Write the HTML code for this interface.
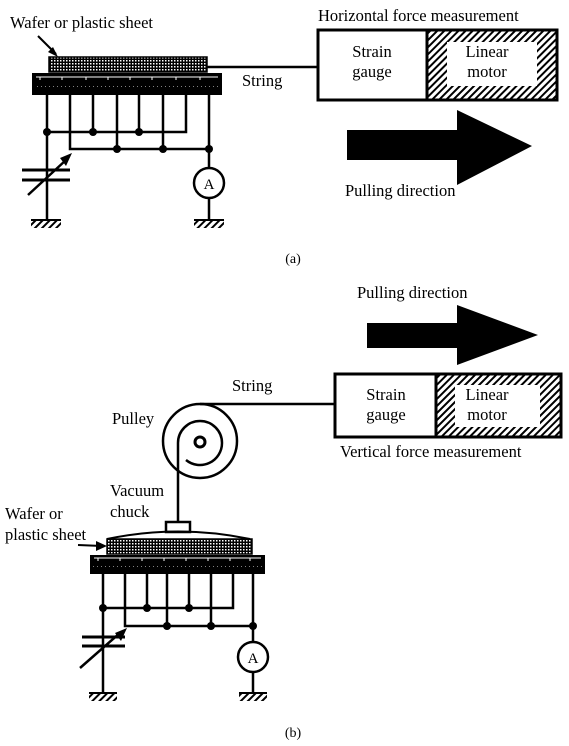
<!DOCTYPE html>
<html><head><style>
html,body{margin:0;padding:0;background:#fff;}
svg{display:block;}
text{font-family:"Liberation Serif",serif;fill:#000;}
</style></head><body>
<svg width="569" height="746" viewBox="0 0 569 746" xmlns="http://www.w3.org/2000/svg">
<defs>
<pattern id="hatch" width="5" height="5" patternUnits="userSpaceOnUse" patternTransform="rotate(45)">
<rect width="5" height="5" fill="#fff"/><rect x="0" y="0" width="2" height="5" fill="#000"/>
</pattern>
<pattern id="dots" width="3" height="3" patternUnits="userSpaceOnUse">
<rect width="3" height="3" fill="#000"/><rect x="0" y="0" width="1.5" height="1.5" fill="#fff"/>
</pattern>
<pattern id="wdots" width="4" height="4" patternUnits="userSpaceOnUse">
<rect width="4" height="4" fill="#000"/><rect x="1" y="1" width="1" height="1.5" fill="#fff"/>
</pattern>
</defs>

<!-- ============ (a) ============ -->
<text x="10" y="28" font-size="16.5">Wafer or plastic sheet</text>
<line x1="38" y1="36" x2="56" y2="54" stroke="#000" stroke-width="2"/>
<polygon points="58,57 48,52 53,47" fill="#000"/>
<rect x="49" y="57" width="158" height="15" fill="url(#dots)" stroke="#000" stroke-width="1.5"/>
<rect x="32" y="73" width="190" height="22" fill="#000"/>
<path d="M36 77 H218 M40 77 v3 M62 77 v3 M86 77 v3 M108 77 v3 M130 77 v3 M152 77 v3 M176 77 v3 M200 77 v3" stroke="#fff" stroke-width="1"/>
<rect x="35" y="86" width="184" height="3" fill="url(#wdots)"/>
<g stroke="#000" stroke-width="2.5" fill="none">
<path d="M47 95 V220"/><path d="M70 95 V149 H209"/><path d="M93 95 V132"/><path d="M117 95 V149"/>
<path d="M139 95 V132"/><path d="M163 95 V149"/><path d="M186 95 V132 H47"/><path d="M209 95 V168"/>
<path d="M209 198 V220"/>
<path d="M22 170 H70 M22 180 H70" stroke-width="3"/>
<path d="M28 195 L66 160"/>
</g>
<polygon points="72,153 60,158 66,166" fill="#000"/>
<g fill="#000"><circle cx="47" cy="132" r="4"/><circle cx="93" cy="132" r="4"/><circle cx="139" cy="132" r="4"/>
<circle cx="117" cy="149" r="4"/><circle cx="163" cy="149" r="4"/><circle cx="209" cy="149" r="4"/></g>
<circle cx="209" cy="183" r="15" fill="#fff" stroke="#000" stroke-width="2.5"/>
<text x="209" y="189" font-size="15" text-anchor="middle">A</text>
<rect x="31" y="220" width="30" height="8" fill="url(#hatch)"/><line x1="31" y1="220" x2="61" y2="220" stroke="#000" stroke-width="2"/>
<rect x="194" y="220" width="30" height="8" fill="url(#hatch)"/><line x1="194" y1="220" x2="224" y2="220" stroke="#000" stroke-width="2"/>

<path d="M207 67 H318" stroke="#000" stroke-width="2.5"/>
<text x="242" y="86" font-size="16.5">String</text>

<text x="318" y="21" font-size="16.5">Horizontal force measurement</text>
<rect x="427" y="30" width="130" height="70" fill="url(#hatch)"/>
<rect x="447" y="42" width="90" height="44" fill="#fff"/>
<rect x="318" y="30" width="239" height="70" fill="none" stroke="#000" stroke-width="3"/>
<rect x="318" y="30" width="109" height="70" fill="#fff" stroke="#000" stroke-width="3"/>
<text x="372" y="57" font-size="16.5" text-anchor="middle">Strain</text>
<text x="372" y="77" font-size="16.5" text-anchor="middle">gauge</text>
<text x="487" y="57" font-size="16.5" text-anchor="middle">Linear</text>
<text x="487" y="77" font-size="16.5" text-anchor="middle">motor</text>
<polygon points="347,130 457,130 457,110 532,146 457,185 457,160 347,160" fill="#000"/>
<text x="345" y="196" font-size="16.5">Pulling direction</text>
<text x="293" y="263" font-size="14" text-anchor="middle">(a)</text>

<!-- ============ (b) ============ -->
<text x="357" y="298" font-size="16.5">Pulling direction</text>
<polygon points="367,323 457,323 457,305 538,335 457,365 457,348 367,348" fill="#000"/>
<rect x="436" y="374" width="125" height="63" fill="url(#hatch)"/>
<rect x="455" y="385" width="85" height="42" fill="#fff"/>
<rect x="335" y="374" width="226" height="63" fill="none" stroke="#000" stroke-width="3"/>
<rect x="335" y="374" width="101" height="63" fill="#fff" stroke="#000" stroke-width="3"/>
<text x="386" y="400" font-size="16.5" text-anchor="middle">Strain</text>
<text x="386" y="420" font-size="16.5" text-anchor="middle">gauge</text>
<text x="487" y="400" font-size="16.5" text-anchor="middle">Linear</text>
<text x="487" y="420" font-size="16.5" text-anchor="middle">motor</text>
<text x="340" y="457" font-size="16.5">Vertical force measurement</text>

<text x="232" y="391" font-size="16.5">String</text>
<path d="M200 404 H335" stroke="#000" stroke-width="2.5"/>
<text x="112" y="424" font-size="16.5">Pulley</text>
<circle cx="200" cy="441" r="37" fill="none" stroke="#000" stroke-width="2.5"/>
<path d="M178 522 V443 A22 22 0 0 1 222 443 A22 22 0 0 1 186 460" fill="none" stroke="#000" stroke-width="2.5"/>
<circle cx="200" cy="442" r="5" fill="none" stroke="#000" stroke-width="3"/>
<text x="110" y="496" font-size="16.5">Vacuum</text>
<text x="110" y="517" font-size="16.5">chuck</text>
<rect x="166" y="522" width="24" height="10" fill="#fff" stroke="#000" stroke-width="2.5"/>
<path d="M107 539 Q178 524 250 539" fill="none" stroke="#000" stroke-width="2"/>
<text x="5" y="519" font-size="16.5">Wafer or</text>
<text x="5" y="540" font-size="16.5">plastic sheet</text>
<line x1="78" y1="545" x2="102" y2="546" stroke="#000" stroke-width="2"/>
<polygon points="107,546 96,541 96,551" fill="#000"/>
<rect x="107" y="539" width="145" height="15" fill="url(#dots)" stroke="#000" stroke-width="1.5"/>
<rect x="90" y="555" width="175" height="19" fill="#000"/>
<path d="M94 558 H261 M98 558 v3 M120 558 v3 M142 558 v3 M164 558 v3 M186 558 v3 M208 558 v3 M230 558 v3 M250 558 v3" stroke="#fff" stroke-width="1"/>
<rect x="93" y="566" width="169" height="3" fill="url(#wdots)"/>
<g stroke="#000" stroke-width="2.5" fill="none">
<path d="M103 574 V693"/><path d="M125 574 V626 H253"/><path d="M147 574 V608"/><path d="M167 574 V626"/>
<path d="M189 574 V608"/><path d="M211 574 V626"/><path d="M233 574 V608 H103"/><path d="M253 574 V642"/>
<path d="M253 672 V693"/>
<path d="M82 637 H125 M82 646 H125" stroke-width="3"/>
<path d="M80 668 L121 632"/>
</g>
<polygon points="127,628 115,633 121,641" fill="#000"/>
<g fill="#000"><circle cx="103" cy="608" r="4"/><circle cx="147" cy="608" r="4"/><circle cx="189" cy="608" r="4"/>
<circle cx="167" cy="626" r="4"/><circle cx="211" cy="626" r="4"/><circle cx="253" cy="626" r="4"/></g>
<circle cx="253" cy="657" r="15" fill="#fff" stroke="#000" stroke-width="2.5"/>
<text x="253" y="663" font-size="15" text-anchor="middle">A</text>
<rect x="89" y="693" width="28" height="8" fill="url(#hatch)"/><line x1="89" y1="693" x2="117" y2="693" stroke="#000" stroke-width="2"/>
<rect x="239" y="693" width="28" height="8" fill="url(#hatch)"/><line x1="239" y1="693" x2="267" y2="693" stroke="#000" stroke-width="2"/>
<text x="293" y="737" font-size="14" text-anchor="middle">(b)</text>
</svg>
</body></html>
